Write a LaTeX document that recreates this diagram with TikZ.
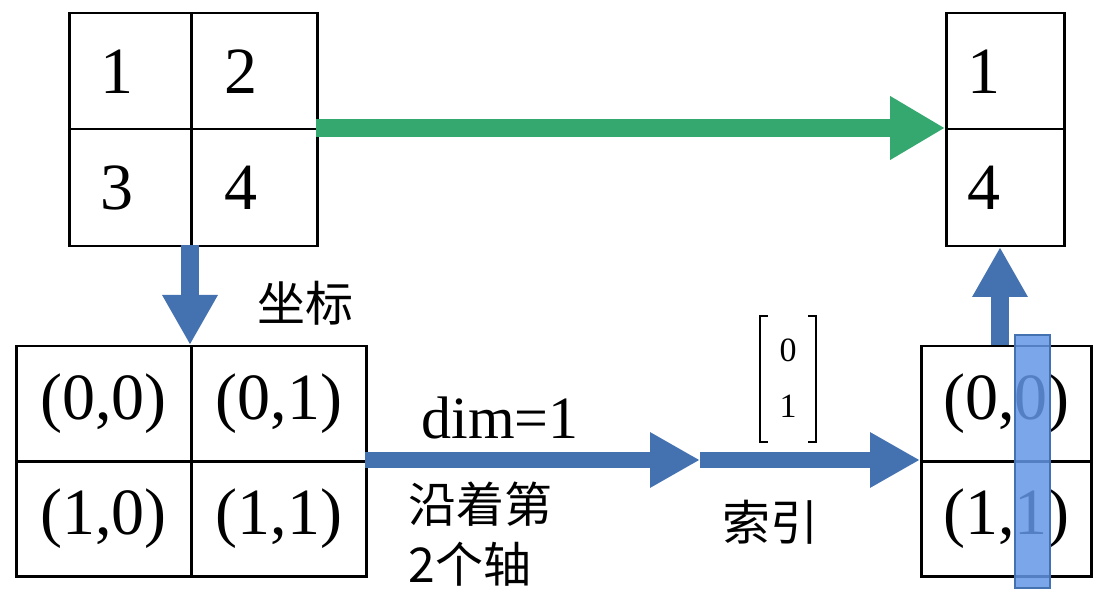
\documentclass[tikz,border=0pt]{standalone}
\usepackage{fontspec}
\setmainfont{Liberation Serif}
\newfontfamily\cjk{Noto Sans CJK SC}
\usetikzlibrary{arrows.meta}
\definecolor{gr}{RGB}{52,168,110}
\definecolor{bl}{RGB}{68,114,176}
\definecolor{hl}{RGB}{100,150,230}
\begin{document}
\begin{tikzpicture}[x=1pt,y=-1pt,
 cell/.style={draw,line width=2.5pt,anchor=north west,inner sep=0pt,font=\fontsize{66}{66}\selectfont},
 big/.style={line width=18pt,-{Triangle[length=50pt,width=52pt]}},
 cn/.style={font=\cjk\fontsize{48}{60}\selectfont}]
\useasboundingbox (0,0) rectangle (1104,612);
% top-left
\node[cell,minimum width=122pt,minimum height=116pt,text width=60pt] (a1) at (68,12) {1};
\node[cell,minimum width=126pt,minimum height=116pt,text width=60pt] (a2) at (190,12) {2};
\node[cell,minimum width=122pt,minimum height=117pt,text width=60pt] (a3) at (68,128) {3};
\node[cell,minimum width=126pt,minimum height=117pt,text width=60pt] (a4) at (190,128) {4};
% top-right
\node[cell,minimum width=118pt,minimum height=116pt,text width=75pt] (r1) at (945,12) {1};
\node[cell,minimum width=118pt,minimum height=117pt,text width=75pt] (r4) at (945,128) {4};
% bottom-left
\node[cell,minimum width=175pt,minimum height=115pt] (b1) at (15,345) {(0,0)};
\node[cell,minimum width=175pt,minimum height=115pt] (b2) at (190,345) {(0,1)};
\node[cell,minimum width=175pt,minimum height=115pt] (b3) at (15,460) {(1,0)};
\node[cell,minimum width=175pt,minimum height=115pt] (b4) at (190,460) {(1,1)};
% bottom-right
\node[cell,minimum width=170pt,minimum height=115pt] (c1) at (920,345) {(0,0)};
\node[cell,minimum width=170pt,minimum height=115pt] (c4) at (920,460) {(1,1)};
% arrows
\coordinate (gs) at (316,128);
\draw[big,draw=gr,fill=gr,-{Triangle[length=55pt,width=60pt]}] (gs) -- (945,128);
\draw[big,draw=bl,fill=bl] (190,245) -- (190,345);
\coordinate (m) at (700,460);
\draw[big,draw=bl,fill=bl,line width=16pt] (365,460) -- (m);
\draw[big,draw=bl,fill=bl,line width=16pt] (m) -- (920,460);
\draw[big,draw=bl,fill=bl,line width=18pt] (1000,345) -- (1000,247);
% highlight
\fill[hl,opacity=0.85] (1015,335) rectangle (1050,588);
\draw[bl,line width=2pt] (1015,335) rectangle (1050,588);
% texts
\node[cn] (t1) at (305,303) {坐标};
\node[font=\fontsize{60}{60}\selectfont] (t2) at (500,418) {dim=1};
\node[cn,align=left,anchor=north west] (t3) at (405,478) {沿着第\\2个轴};
\node[cn] (t4) at (770,522) {索引};
\node[font=\fontsize{34}{56}\selectfont,align=center] (t5) at (788,378) {0\\1};
\draw[line width=1.5pt] (768,316) -- (760,316) -- (760,442) -- (768,442);
\draw[line width=1.5pt] (808,316) -- (816,316) -- (816,442) -- (808,442);
\end{tikzpicture}
\end{document}
